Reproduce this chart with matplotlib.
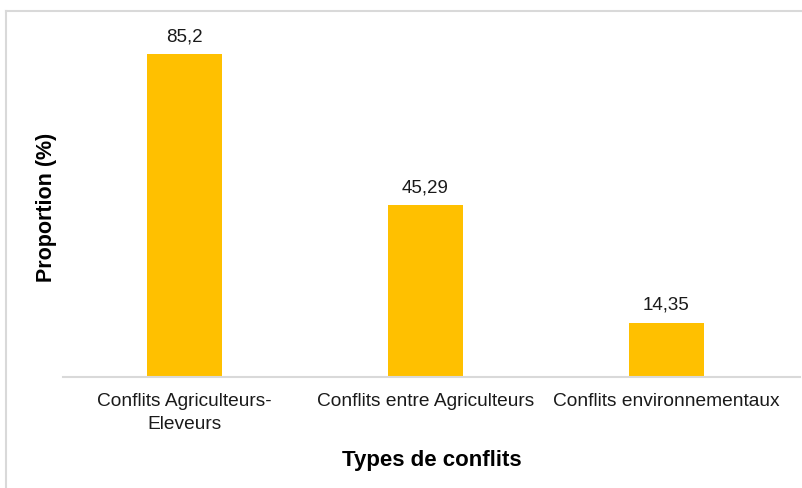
import matplotlib.pyplot as plt
from matplotlib.lines import Line2D

plt.rcParams['font.family'] = ['Liberation Sans', 'DejaVu Sans']

categories = ["Conflits Agriculteurs-\nEleveurs", "Conflits entre Agriculteurs", "Conflits environnementaux"]
values = [85.2, 45.29, 14.35]
value_labels = ["85,2", "45,29", "14,35"]

fig = plt.figure(figsize=(8.02, 4.89), dpi=100)
ax = fig.add_axes([63 / 802, 0.227, 737 / 802, 0.697])

x = range(len(categories))
bars = ax.bar(x, values, width=0.311, color="#FFC000")
for b, lbl in zip(bars, value_labels):
    ax.text(b.get_x() + b.get_width() / 2, b.get_height() + 2.6, lbl,
            ha="center", va="bottom", fontsize=13.5, color="#1a1a1a")

ax.set_xlim(-0.504, 2.554)
ax.set_ylim(0, 90)
ax.set_xticks(list(x))
ax.set_xticklabels(categories, fontsize=13.8, color="#1a1a1a", linespacing=1.45)
ax.tick_params(axis="x", length=0, pad=11)
ax.set_yticks([])
for s in ["top", "right", "left"]:
    ax.spines[s].set_visible(False)
ax.spines["bottom"].set_color("#d9d9d9")
ax.spines["bottom"].set_linewidth(1.5)

ax.set_xlabel("Types de conflits", fontsize=16, fontweight="bold", labelpad=12)
fig.text(47 / 802, 1 - 207 / 489, "Proportion (%)", rotation=90, ha="center", va="center",
         fontsize=15.5, fontweight="bold")

# outer chart frame
fig.add_artist(Line2D([6 / 802, 1], [1 - 12 / 489, 1 - 12 / 489], color="#d9d9d9", lw=1.5))
fig.add_artist(Line2D([6 / 802, 6 / 802], [0, 1 - 12 / 489], color="#d9d9d9", lw=1.5))

fig.savefig("out.png", dpi=100)
